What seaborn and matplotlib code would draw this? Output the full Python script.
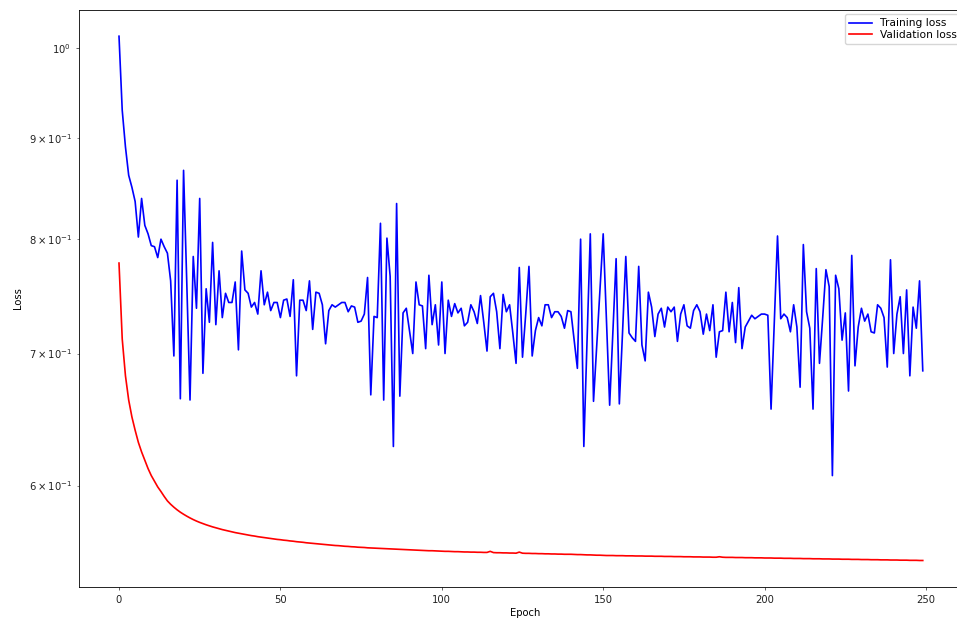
import matplotlib
matplotlib.use("Agg")
import matplotlib.pyplot as plt
import seaborn as sns

epochs = list(range(250))

training_loss = [
    1.014, 0.930, 0.891, 0.862, 0.850, 0.836, 0.802, 0.839, 0.813, 0.805,
    0.794, 0.793, 0.783, 0.800, 0.793, 0.787, 0.762, 0.698, 0.857, 0.664,
    0.867, 0.760, 0.663, 0.784, 0.738, 0.839, 0.684, 0.755, 0.726, 0.797,
    0.724, 0.771, 0.730, 0.751, 0.743, 0.743, 0.761, 0.703, 0.789, 0.754,
    0.751, 0.739, 0.743, 0.733, 0.771, 0.741, 0.752, 0.736, 0.743, 0.743,
    0.730, 0.745, 0.746, 0.731, 0.763, 0.682, 0.745, 0.745, 0.736, 0.762,
    0.720, 0.752, 0.751, 0.741, 0.708, 0.736, 0.741, 0.739, 0.741, 0.743,
    0.743, 0.735, 0.740, 0.739, 0.726, 0.727, 0.733, 0.765, 0.667, 0.731,
    0.730, 0.815, 0.663, 0.801, 0.766, 0.628, 0.834, 0.666, 0.734, 0.738,
    0.719, 0.700, 0.761, 0.741, 0.740, 0.704, 0.767, 0.724, 0.741, 0.707,
    0.761, 0.700, 0.745, 0.731, 0.742, 0.734, 0.738, 0.723, 0.726, 0.741,
    0.735, 0.725, 0.749, 0.726, 0.702, 0.748, 0.751, 0.735, 0.704, 0.750,
    0.735, 0.741, 0.717, 0.692, 0.774, 0.697, 0.733, 0.775, 0.698, 0.719,
    0.730, 0.723, 0.741, 0.741, 0.730, 0.735, 0.735, 0.731, 0.721, 0.736,
    0.735, 0.711, 0.688, 0.800, 0.628, 0.711, 0.805, 0.662, 0.707, 0.754,
    0.805, 0.728, 0.659, 0.717, 0.782, 0.660, 0.718, 0.784, 0.717, 0.713,
    0.710, 0.775, 0.707, 0.694, 0.752, 0.739, 0.714, 0.733, 0.738, 0.722,
    0.739, 0.735, 0.739, 0.710, 0.733, 0.741, 0.723, 0.721, 0.736, 0.741,
    0.735, 0.716, 0.733, 0.719, 0.741, 0.697, 0.718, 0.719, 0.752, 0.718,
    0.743, 0.709, 0.756, 0.704, 0.722, 0.727, 0.732, 0.729, 0.731, 0.733,
    0.733, 0.732, 0.656, 0.727, 0.803, 0.729, 0.733, 0.730, 0.718, 0.741,
    0.722, 0.673, 0.795, 0.735, 0.721, 0.656, 0.773, 0.692, 0.730, 0.772,
    0.757, 0.607, 0.767, 0.755, 0.711, 0.734, 0.670, 0.785, 0.690, 0.722,
    0.738, 0.727, 0.733, 0.718, 0.717, 0.741, 0.738, 0.730, 0.689, 0.781,
    0.700, 0.733, 0.748, 0.700, 0.754, 0.682, 0.739, 0.721, 0.762, 0.686,
]

validation_loss = [
    0.778, 0.712, 0.682, 0.663, 0.650, 0.640, 0.631, 0.624, 0.618, 0.612,
    0.607, 0.603, 0.599, 0.5958, 0.5924, 0.5893, 0.5870, 0.5850, 0.5832, 0.5816,
    0.5802, 0.5789, 0.5777, 0.5766, 0.5756, 0.5747, 0.5739, 0.5731, 0.5724, 0.5717,
    0.5711, 0.5705, 0.5699, 0.5694, 0.5689, 0.5684, 0.5679, 0.5675, 0.5671, 0.5667,
    0.5663, 0.5659, 0.5656, 0.5652, 0.5649, 0.5646, 0.5643, 0.5640, 0.5637, 0.5634,
    0.5632, 0.5629, 0.5627, 0.5624, 0.5622, 0.5619, 0.5617, 0.5615, 0.5612, 0.5610,
    0.5608, 0.5606, 0.5604, 0.5602, 0.5600, 0.5598, 0.5596, 0.5594, 0.5593, 0.5591,
    0.5589, 0.5588, 0.5586, 0.5585, 0.5583, 0.5582, 0.5581, 0.5579, 0.5578, 0.5577,
    0.5576, 0.5575, 0.5574, 0.5573, 0.5572, 0.5571, 0.5570, 0.5569, 0.5568, 0.5567,
    0.5566, 0.5565, 0.5564, 0.5563, 0.5562, 0.5561, 0.5560, 0.5560, 0.5559, 0.5558,
    0.5557, 0.5556, 0.5556, 0.5555, 0.5554, 0.5554, 0.5553, 0.5552, 0.5552, 0.5551,
    0.5551, 0.5550, 0.5550, 0.5549, 0.5549, 0.5556, 0.5548, 0.5547, 0.5547, 0.5546,
    0.5546, 0.5545, 0.5545, 0.5544, 0.5551, 0.5544, 0.5543, 0.5543, 0.5542, 0.5542,
    0.5541, 0.5541, 0.5540, 0.5540, 0.5539, 0.5539, 0.5538, 0.5538, 0.5537, 0.5537,
    0.5537, 0.5536, 0.5535, 0.5535, 0.5534, 0.5533, 0.5533, 0.5532, 0.5531, 0.5531,
    0.5530, 0.5529, 0.5529, 0.5529, 0.5528, 0.5528, 0.5528, 0.5527, 0.5527, 0.5527,
    0.5526, 0.5526, 0.5526, 0.5525, 0.5525, 0.5525, 0.5524, 0.5524, 0.5524, 0.5523,
    0.5523, 0.5523, 0.5522, 0.5522, 0.5522, 0.5521, 0.5521, 0.5521, 0.5520, 0.5520,
    0.5520, 0.5519, 0.5519, 0.5519, 0.5518, 0.5518, 0.5521, 0.5518, 0.5517, 0.5517,
    0.5517, 0.5516, 0.5516, 0.5516, 0.5515, 0.5515, 0.5515, 0.5514, 0.5514, 0.5514,
    0.5513, 0.5513, 0.5513, 0.5512, 0.5512, 0.5512, 0.5511, 0.5511, 0.5511, 0.5510,
    0.5510, 0.5510, 0.5509, 0.5509, 0.5509, 0.5508, 0.5508, 0.5508, 0.5507, 0.5507,
    0.5507, 0.5506, 0.5506, 0.5506, 0.5505, 0.5505, 0.5505, 0.5504, 0.5504, 0.5504,
    0.5503, 0.5503, 0.5503, 0.5502, 0.5502, 0.5502, 0.5501, 0.5501, 0.5501, 0.5500,
    0.5500, 0.5500, 0.5499, 0.5499, 0.5499, 0.5498, 0.5498, 0.5498, 0.5497, 0.5497,
]

assert len(training_loss) == 250 and len(validation_loss) == 250

FS = 7.2
plt.rcParams["font.family"] = ["DejaVu Sans"]
plt.rcParams["font.size"] = FS
plt.rcParams["axes.linewidth"] = 0.6
plt.rcParams["xtick.major.size"] = 2.4
plt.rcParams["ytick.major.size"] = 2.4
plt.rcParams["ytick.minor.size"] = 1.5
plt.rcParams["xtick.major.width"] = 0.5
plt.rcParams["ytick.major.width"] = 0.5
plt.rcParams["ytick.minor.width"] = 0.4
plt.rcParams["xtick.color"] = "#222222"
plt.rcParams["ytick.color"] = "#222222"

W, H = 957, 619
fig = plt.figure(figsize=(W / 100, H / 100), dpi=100)

# axes: left spine at x=78.5 px, x=0 at 119 px, x=250 at 926 px; right edge cut off
x_lo, x_hi = -12.45, 264.0
px_per_epoch = (926 - 119) / 250
ax_left_px = 119 + x_lo * px_per_epoch
ax_width_px = (x_hi - x_lo) * px_per_epoch
ax = fig.add_axes([ax_left_px / W, 32.3 / H, ax_width_px / W, (586.7 - 10) / H])

sns.lineplot(x=epochs, y=training_loss, color="blue", linewidth=1.2,
             label="Training loss", ax=ax)
sns.lineplot(x=epochs, y=validation_loss, color="red", linewidth=1.2,
             label="Validation loss", ax=ax)

ax.set_yscale("log")
ax.set_xlim(x_lo, x_hi)
ax.spines["right"].set_visible(False)  # lies beyond the cropped right edge
ax.set_xlabel("Epoch", labelpad=2.0)
ax.set_ylabel("Loss", labelpad=4)
ax.legend(loc="upper left", bbox_to_anchor=(845 / W, 1 - 14 / H),
          bbox_transform=fig.transFigure, borderaxespad=0, fontsize=7.7,
          labelspacing=0.15, handlelength=2.1, handletextpad=0.8,
          borderpad=0.4)

fig.savefig("out.png", dpi=100)
